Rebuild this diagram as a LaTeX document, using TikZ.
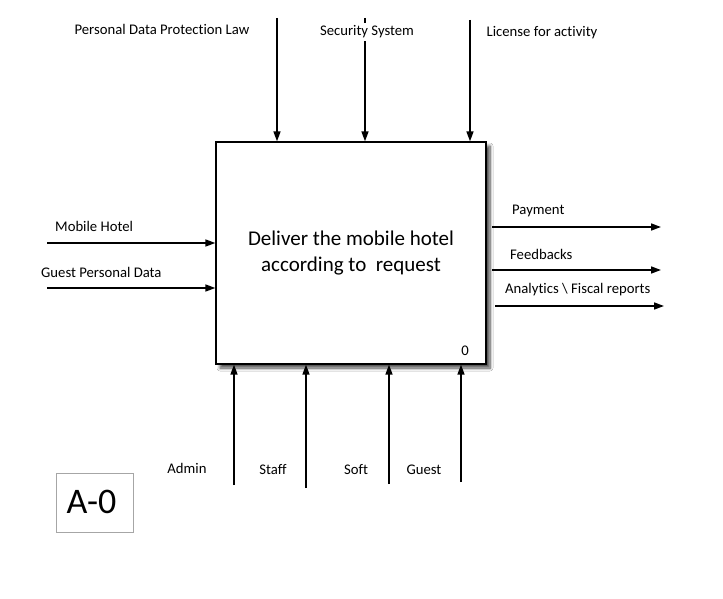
\documentclass[tikz,border=0pt]{standalone}
\usepackage{fontspec}
\setmainfont{Carlito}[Ligatures={NoCommon}]
\usetikzlibrary{arrows.meta,shadows.blur}
\tikzset{
  arr/.style={line width=1.6pt,-{Triangle[length=10pt,width=7pt]}},
  lbl/.style={font=\fontsize{14.7}{17}\selectfont,inner sep=1pt},
  lbll/.style={lbl,anchor=west},
  mainbox/.style={draw,line width=1.3pt,fill=white,minimum width=270pt,minimum height=222pt,inner sep=0pt,
    blur shadow={shadow xshift=4pt,shadow yshift=-4pt,shadow blur steps=8,shadow blur radius=3pt,shadow opacity=70,shadow blur extra rounding=0pt}},
}
\begin{document}
\begin{tikzpicture}[x=1pt,y=-1pt]
\useasboundingbox[fill=white] (0,0) rectangle (723,599);
\node[mainbox] (box) at (351,253) {};
\node[align=center,font=\fontsize{21}{26}\selectfont] (title) at (351,253) {Deliver the mobile hotel\\according to\ \ request};
\node[lbl] (num) at (465,351) {0};
% controls (top)
\coordinate (t1) at (277,18);
\coordinate (t2) at (365,18);
\coordinate (t3) at (470,20);
\draw[arr] (t1) -- (t1 |- box.north);
\draw[arr] (t2) -- (t2 |- box.north);
\draw[arr] (t3) -- (t3 |- box.north);
\node[lbl] (lt1) at (162,29) {Personal Data Protection Law};
\node[lbl,fill=white,inner ysep=3pt] (lt2) at (367,32) {Security System};
\node[lbl] (lt3) at (542,33) {License for activity};
% inputs (left)
\coordinate (i1) at (47,243);
\coordinate (i2) at (47,288);
\draw[arr] (i1) -- (i1 -| box.west);
\draw[arr] (i2) -- (i2 -| box.west);
\node[lbll] (li1) at (54,226) {Mobile Hotel};
\node[lbll] (li2) at (40,272) {Guest Personal Data};
% outputs (right)
\coordinate (o1s) at (492,227);
\coordinate (o1e) at (661,227);
\coordinate (o2s) at (492,270);
\coordinate (o2e) at (661,270);
\coordinate (o3s) at (495,306);
\coordinate (o3e) at (664,306);
\draw[arr] (o1s) -- (o1e);
\draw[arr] (o2s) -- (o2e);
\draw[arr] (o3s) -- (o3e);
\node[lbll] (lo1) at (511,211) {Payment};
\node[lbll] (lo2) at (509,254) {Feedbacks};
\node[lbll] (lo3) at (504,290) {Analytics \textbackslash{} Fiscal reports};
% mechanisms (bottom)
\coordinate (m1) at (234,485);
\coordinate (m2) at (306,488);
\coordinate (m3) at (389,484);
\coordinate (m4) at (461,482);
\draw[arr] (m1) -- (m1 |- box.south);
\draw[arr] (m2) -- (m2 |- box.south);
\draw[arr] (m3) -- (m3 |- box.south);
\draw[arr] (m4) -- (m4 |- box.south);
\node[lbl] (lm1) at (187,468) {Admin};
\node[lbl] (lm2) at (273,470) {Staff};
\node[lbl] (lm3) at (356,470) {Soft};
\node[lbl] (lm4) at (424,470) {Guest};
% node id
\node[draw=black!35,line width=0.8pt,minimum width=77pt,minimum height=59pt,inner sep=0pt] (a0) at (94.5,502.5) {};
\node[font=\fontsize{36}{40}\selectfont,inner sep=0pt] (a0t) at (91.5,502) {A-0};
\end{tikzpicture}
\end{document}
